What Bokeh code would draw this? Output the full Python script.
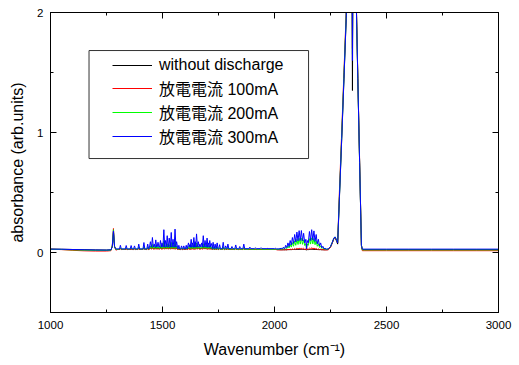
import numpy as np
from bokeh.plotting import figure
from bokeh.models import (Range1d, LinearAxis, FixedTicker, Legend, LegendItem,
                          BoxAnnotation, ColumnDataSource)
from bokeh.embed import file_html
from bokeh.resources import INLINE

# ---------------- data ----------------
series_labels = ["without discharge", "放電電流 100mA", "放電電流 200mA", "放電電流 300mA"]
series_colors = ["#000000", "#ff0000", "#00ff00", "#0000ff"]

# 1000-1300 cm-1
low_wn = [1000, 1050, 1100, 1150, 1200, 1250, 1270, 1276, 1281, 1286, 1292, 1300]
low_black = [.028, .027, .025, .023, .021, .020, .022, .050, .17, .045, .025, .025]
low_red = [.027, .024, .018, .014, .012, .012, .015, .060, .20, .050, .020, .025]
low_green = [.027, .025, .022, .020, .018, .018, .020, .055, .19, .050, .025, .028]
low_blue = [.028, .027, .025, .023, .021, .020, .022, .050, .18, .050, .030, .030]

# water-vapour lines 1300-2010 cm-1: line positions and peak heights
water_peak_wn = [1312, 1338, 1360, 1375, 1394, 1417, 1434, 1446, 1455, 1463,
                 1470, 1480, 1491, 1498, 1506, 1513, 1521, 1530, 1539, 1547,
                 1556, 1563, 1573, 1585, 1595, 1606, 1616, 1622, 1628, 1634,
                 1640, 1646, 1652, 1660, 1667, 1675, 1682, 1690, 1699, 1705,
                 1711, 1718, 1726, 1735, 1744, 1755, 1771, 1782, 1792, 1810,
                 1827, 1845, 1863, 1890, 1915, 1940, 1967, 2004]
water_blue = [.060, .058, .058, .055, .070, .083, .070, .090, .125, .070,
              .105, .085, .100, .080, .190, .100, .140, .120, .167, .110,
              .195, .090, .060, .055, .055, .060, .080, .065, .110, .080,
              .125, .090, .155, .090, .070, .080, .140, .100, .120, .080,
              .100, .075, .085, .070, .080, .065, .085, .055, .070, .050,
              .063, .050, .070, .045, .040, .040, .035, .035]
water_green = [.040, .039, .039, .038, .044, .049, .044, .053, .067, .045,
               .059, .051, .057, .049, .093, .057, .073, .065, .084, .061,
               .095, .053, .040, .038, .038, .040, .049, .043, .061, .049,
               .067, .053, .079, .053, .045, .049, .073, .057, .065, .049,
               .057, .047, .048, .042, .046, .040, .048, .036, .042, .034,
               .039, .034, .042, .032, .030, .030, .028, .028]
water_black = [.033, .032, .032, .031, .035, .038, .035, .041, .050, .036,
               .045, .040, .044, .039, .066, .044, .054, .049, .060, .046,
               .068, .041, .033, .031, .031, .033, .039, .035, .046, .039,
               .050, .041, .058, .041, .036, .039, .054, .044, .049, .039,
               .044, .038, .038, .035, .037, .033, .038, .031, .035, .030,
               .033, .030, .035, .028, .027, .027, .026, .026]
water_red = [.030, .029, .029, .029, .031, .033, .031, .035, .040, .032,
             .037, .034, .036, .033, .050, .036, .042, .039, .046, .038,
             .050, .035, .030, .029, .029, .030, .033, .031, .038, .033,
             .040, .035, .045, .035, .032, .033, .042, .036, .039, .033,
             .036, .033, .033, .031, .032, .030, .033, .028, .031, .028,
             .030, .028, .031, .027, .026, .026, .025, .025]
# baseline level between lines, per stretch of the water region
water_seg_edges = [1300, 1440, 1568, 1612, 1722, 2010]
water_base_blue = [.030, .045, .030, .045, .032]
water_base_green = [.028, .035, .028, .035, .027]
water_base_black = [.025, .030, .025, .030, .025]
water_base_red = [.025, .028, .025, .028, .025]

# CO band 2010-2231 cm-1 (dense rotational structure)
co_wn = [2010, 2020,
         2030, 2035, 2040, 2045, 2050, 2055, 2060, 2065, 2070, 2075, 2080, 2085,
         2090, 2095, 2100, 2105, 2110, 2115, 2120, 2125, 2130, 2135, 2140,
         2143,
         2146, 2151, 2156, 2161, 2166, 2171, 2176, 2181, 2186, 2191, 2196, 2201,
         2206, 2211, 2216, 2221, 2226, 2231]
co_blue = [.030, .030,
           .035, .030, .045, .032, .060, .040, .080, .050, .100, .062, .125, .075,
           .150, .088, .170, .097, .182, .100, .183, .096, .160, .080, .110,
           .030,
           .100, .080, .175, .100, .190, .103, .180, .092, .150, .072, .110, .055,
           .080, .040, .052, .032, .035, .028]
co_green = [.027, .027,
            .030, .028, .035, .030, .042, .033, .055, .038, .068, .045, .082, .052,
            .097, .060, .110, .067, .118, .070, .119, .068, .105, .058, .075,
            .030,
            .070, .060, .115, .070, .122, .072, .117, .065, .098, .052, .073, .042,
            .055, .034, .040, .029, .030, .027]
co_red = [.022, .022,
          .022, .022, .023, .022, .024, .022, .026, .023, .028, .024, .030, .025,
          .033, .026, .035, .027, .037, .028, .038, .027, .035, .026, .030,
          .022,
          .030, .027, .036, .028, .040, .028, .038, .027, .034, .025, .030, .024,
          .027, .023, .024, .022, .022, .022]
co_black = [.025, .024,
            .023, .023, .023, .023, .023, .023, .024, .024, .024, .024, .025, .025,
            .025, .025, .026, .026, .026, .026, .026, .026, .025, .025, .024,
            .022,
            .024, .024, .025, .025, .026, .026, .026, .026, .025, .025, .024, .024,
            .024, .023, .023, .023, .023, .023]

# CO2 band and flat end 2240-3000 cm-1
hi_wn = [2240, 2250, 2258, 2265, 2270, 2276, 2282, 2290, 2300, 2310, 2320, 2325,
         2340, 2346, 2348, 2350, 2362, 2366, 2372, 2380, 2388, 2392,
         2400, 2500, 2600, 2700, 2800, 2900, 3000]
hi_blue = [.030, .050, .085, .120, .130, .110, .080, .47, .95, 1.45, 1.95, 2.3,
           2.4, 2.4, 1.60, 2.4, 2.4, 2.0, 1.45, .75, .06, .028,
           .028, .028, .028, .028, .028, .028, .028]
hi_green = [.028, .050, .085, .120, .130, .110, .080, .48, .97, 1.47, 1.97, 2.3,
            2.4, 2.4, 1.65, 2.4, 2.4, 2.0, 1.45, .75, .06, .022,
            .022, .022, .022, .022, .022, .022, .022]
hi_red = [.022, .045, .080, .115, .125, .105, .080, .52, 1.00, 1.50, 2.00, 2.3,
          2.4, 2.4, 1.70, 2.4, 2.4, 2.02, 1.47, .77, .06, .015,
          .015, .015, .015, .015, .015, .015, .015]
hi_black = [.025, .045, .080, .115, .125, .100, .070, .46, .94, 1.44, 1.94, 2.3,
            2.4, 2.4, 1.35, 2.4, 2.4, 2.0, 1.45, .75, .06, .024,
            .024, .024, .024, .024, .024, .024, .024]

x_ticks = [1000, 1500, 2000, 2500, 3000]
x_minor = [1250, 1750, 2250, 2750]
y_ticks = [0, 1, 2]
y_minor = [-0.5, 0.5, 1.5]

LINE_HALF_WIDTH = 4  # half width of a drawn absorption line, cm-1


def water_lines(heights, seg_bases):
    xs, ys = [], []
    for wn, h in zip(water_peak_wn, heights):
        k = int(np.searchsorted(water_seg_edges, wn)) - 1
        b = seg_bases[k]
        xs += [wn - LINE_HALF_WIDTH, wn, wn + LINE_HALF_WIDTH]
        ys += [b, h, b]
    return xs, ys


def spectrum(low, water, wbase, co, hi):
    wx, wy = water_lines(water, wbase)
    x = list(low_wn) + wx + list(co_wn) + list(hi_wn)
    y = list(low) + wy + list(co) + list(hi)
    return x, y


spectra = [
    spectrum(low_black, water_black, water_base_black, co_black, hi_black),
    spectrum(low_red, water_red, water_base_red, co_red, hi_red),
    spectrum(low_green, water_green, water_base_green, co_green, hi_green),
    spectrum(low_blue, water_blue, water_base_blue, co_blue, hi_blue),
]

# ---------------- figure ----------------
FONT = "Liberation Sans"
p = figure(width=519, height=365, output_backend="svg", toolbar_location=None,
           x_range=Range1d(1000, 3000), y_range=Range1d(-0.5, 2),
           min_border_left=50, min_border_right=21, min_border_top=12,
           min_border_bottom=53)
p.xgrid.visible = False
p.ygrid.visible = False
p.outline_line_color = "black"
p.outline_line_width = 1
p.background_fill_color = "white"
p.border_fill_color = "white"


def style_axis(ax, ticks, minor, show_labels):
    ax.ticker = FixedTicker(ticks=ticks, minor_ticks=minor)
    ax.major_tick_in = 6
    ax.major_tick_out = 0
    ax.minor_tick_in = 3
    ax.minor_tick_out = 0
    ax.axis_line_color = "black"
    ax.major_tick_line_color = "black"
    ax.minor_tick_line_color = "black"
    if show_labels:
        ax.major_label_text_font = FONT
        ax.major_label_text_font_size = "11.5px"
        ax.major_label_text_color = "black"
        ax.major_label_standoff = 8
        ax.axis_label_text_font = FONT
        ax.axis_label_text_font_size = "16px"
        ax.axis_label_text_font_style = "normal"
        ax.axis_label_text_color = "black"
        ax.axis_label_standoff = 9
    else:
        ax.major_label_text_color = None
        ax.major_label_standoff = 0


style_axis(p.xaxis[0], x_ticks, x_minor, True)
style_axis(p.yaxis[0], y_ticks, y_minor, True)
p.xaxis[0].axis_label = "Wavenumber (cm⁻¹)"
p.yaxis[0].axis_label = "absorbance (arb.units)"
p.yaxis[0].major_label_standoff = 7
p.yaxis[0].axis_label_standoff = 8

top_ax = LinearAxis()
style_axis(top_ax, x_ticks, x_minor, False)
p.add_layout(top_ax, "above")
right_ax = LinearAxis()
style_axis(right_ax, y_ticks, y_minor, False)
p.add_layout(right_ax, "right")

renderers = []
for (x, y), c in zip(spectra, series_colors):
    src = ColumnDataSource(dict(x=x, y=y))
    r = p.line("x", "y", source=src, line_color=c, line_width=1)
    renderers.append(r)

box = BoxAnnotation(left=1172, right=2152, bottom=0.783, top=1.683,
                    fill_color="white", fill_alpha=1.0,
                    line_color="#333333", line_alpha=1.0, line_width=1)
p.add_layout(box)

legend = Legend(items=[LegendItem(label=lab, renderers=[r])
                       for lab, r in zip(series_labels, renderers)],
                location=(62, 164), padding=0, spacing=0,
                glyph_width=40, glyph_height=22, label_height=22,
                label_standoff=7, border_line_alpha=0,
                background_fill_alpha=0,
                label_text_font="Liberation Sans, Noto Sans CJK JP",
                label_text_font_size="16px", label_text_color="black")
p.add_layout(legend)

open("out.html", "w").write(file_html(p, INLINE))
